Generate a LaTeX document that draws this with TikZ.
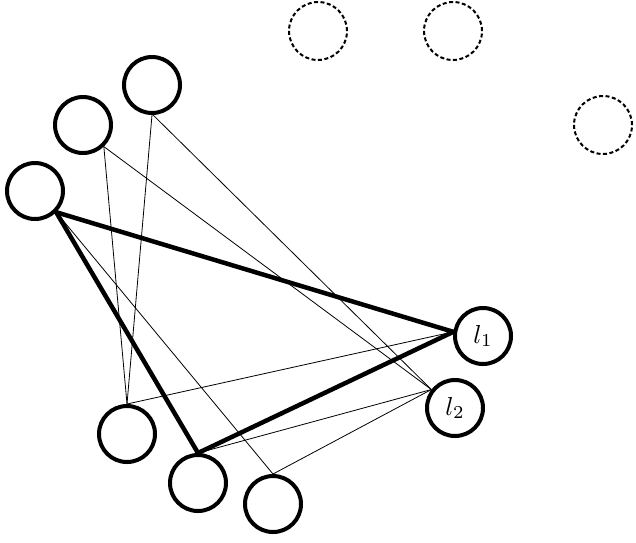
\documentclass[tikz,border=0pt]{standalone}
\begin{document}
\begin{tikzpicture}[x=1pt,y=-1pt,
  vtx/.style={circle,draw=black,line width=4pt,minimum size=56pt,inner sep=0pt,fill=white},
  ghost/.style={circle,draw=black,line width=2pt,dash pattern=on 4pt off 2.5pt,minimum size=58pt,inner sep=0pt},
  heavy/.style={line width=4.5pt,line cap=round},
  light/.style={line width=0.8pt}]
\useasboundingbox (0,0) rectangle (636,542);
\node[ghost] (g1) at (318,31) {};
\node[ghost] (g2) at (453,31) {};
\node[ghost] (g3) at (603,125) {};
% solid vertices
\node[vtx] (A) at (152,85) {};
\node[vtx] (B) at (83,125) {};
\node[vtx] (C) at (35,191) {};
\node[vtx] (D) at (127,434) {};
\node[vtx] (E) at (198,483) {};
\node[vtx] (F) at (273,504) {};
\node[vtx] (L1) at (483,336) {\scalebox{2.6}{$l_1$}};
\node[vtx] (L2) at (455,408) {\scalebox{2.6}{$l_2$}};
% connectors
\draw[light] (A.-90) -- (D.90);
\draw[light] (A.-88) -- (L2.142);
\draw[light] (B.-46) -- (D.90);
\draw[light] (B.-46) -- (L2.142);
\draw[light] (C.-45) -- (F.90);
\draw[light] (D.90) -- (L1.172);
\draw[light] (E.90) -- (L2.142);
\draw[light] (F.90) -- (L2.142);
\draw[heavy] (C.-45) -- (L1.172);
\draw[heavy] (C.-45) -- (E.90);
\draw[heavy] (E.90) -- (L1.172);
\end{tikzpicture}
\end{document}
